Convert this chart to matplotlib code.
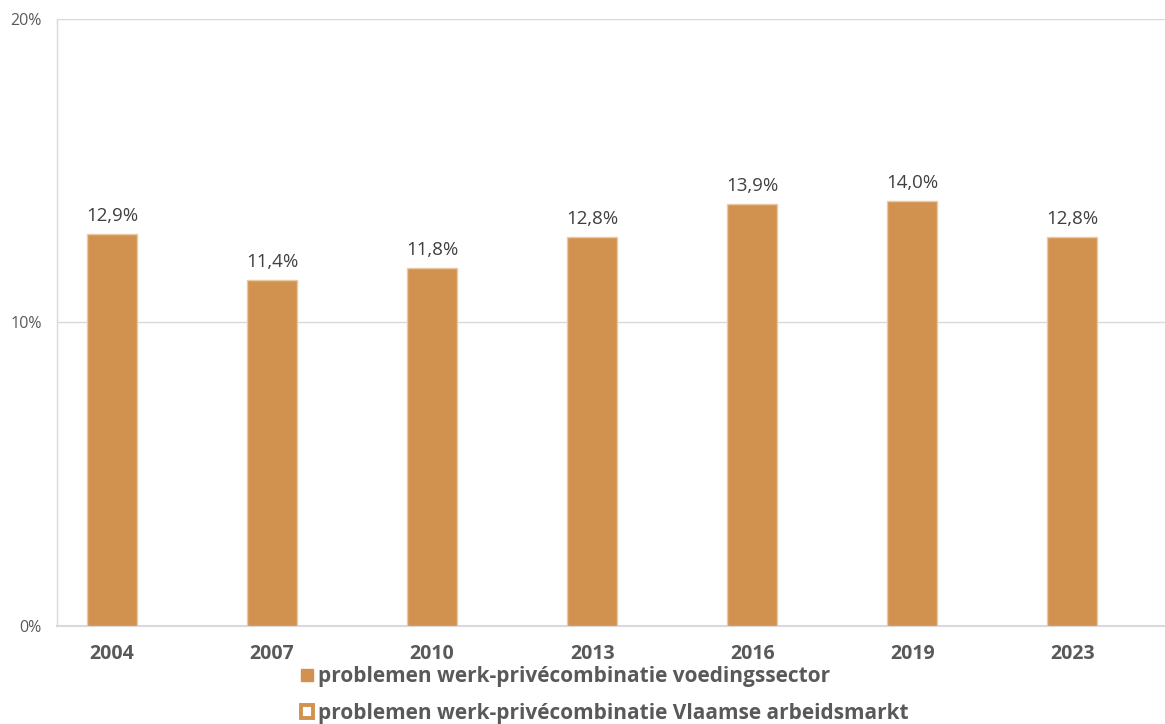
import matplotlib.pyplot as plt
from matplotlib import font_manager as fm
from matplotlib.patches import Patch
from matplotlib.ticker import FuncFormatter

# =========================
# Data
# =========================
years = ["2004", "2007", "2010", "2013", "2016", "2019", "2023"]
voeding = [12.9, 11.4, 11.8, 12.8, 13.9, 14.0, 12.8]
label_voeding = "problemen werk-privécombinatie voedingssector"
label_vlaams = "problemen werk-privécombinatie Vlaamse arbeidsmarkt"

BAR_COLOR = "#D19250"
EDGE_COLOR = "#EBC9A2"
GRID_COLOR = "#D9D9D9"


# static Open Sans files (family lookup picks the condensed bold)
def font_file(fname):
    for f in fm.fontManager.ttflist:
        if f.fname.endswith("/" + fname):
            return f.fname
    return None


reg_path = font_file("OpenSans-Regular.ttf")
bold_path = font_file("OpenSans-Bold.ttf")


def fp(path, size, weight):
    if path:
        return fm.FontProperties(fname=path, size=size)
    return fm.FontProperties(family="DejaVu Sans", size=size, weight=weight)


fig = plt.figure(figsize=(11.65, 7.24), dpi=100)
ax = fig.add_axes([0.0489, 0.1354, 0.9511, 0.8384])

x = list(range(len(years)))
ax.bar(x, voeding, width=0.31, color=BAR_COLOR, edgecolor=EDGE_COLOR,
       linewidth=1, zorder=3)

for xi, v in zip(x, voeding):
    ax.text(xi, v + 0.3, f"{v:.1f}%".replace(".", ","), ha="center", va="bottom",
            fontproperties=fp(reg_path, 13.5, "normal"), color="#404040")

ax.set_ylim(0, 20)
ax.set_xlim(-0.344, 6.58)
ax.set_yticks([0, 10, 20])
ax.yaxis.set_major_formatter(FuncFormatter(lambda v, p: f"{v:.0f}%"))
ax.set_xticks(x)
ax.set_xticklabels(years, color="#595959")
for t in ax.get_xticklabels():
    t.set_fontproperties(fp(bold_path, 14, "bold"))
for t in ax.get_yticklabels():
    t.set_fontproperties(fp(reg_path, 11.5, "normal"))
    t.set_color("#595959")
ax.tick_params(axis="y", length=0, pad=11)
ax.tick_params(axis="x", length=0, pad=13)

ax.grid(axis="y", color=GRID_COLOR, linewidth=1, zorder=0)
for s in ["top", "right"]:
    ax.spines[s].set_visible(False)
ax.spines["left"].set_color(GRID_COLOR)
ax.spines["bottom"].set_color(GRID_COLOR)
ax.spines["left"].set_linewidth(1)
ax.spines["bottom"].set_linewidth(1.5)

handles = [Patch(facecolor=BAR_COLOR, edgecolor=BAR_COLOR),
           Patch(facecolor="white", edgecolor=BAR_COLOR, linewidth=2.8)]
fig.legend(handles, [label_voeding, label_vlaams], loc="upper left",
           bbox_to_anchor=(0.2585, 0.0795), frameon=False, ncol=1,
           prop=fp(bold_path, 15, "bold"), labelcolor="#595959",
           handlelength=0.55, handleheight=0.55, handletextpad=0.25,
           labelspacing=0.75, borderpad=0, borderaxespad=0)

fig.savefig("out.png", dpi=100)
